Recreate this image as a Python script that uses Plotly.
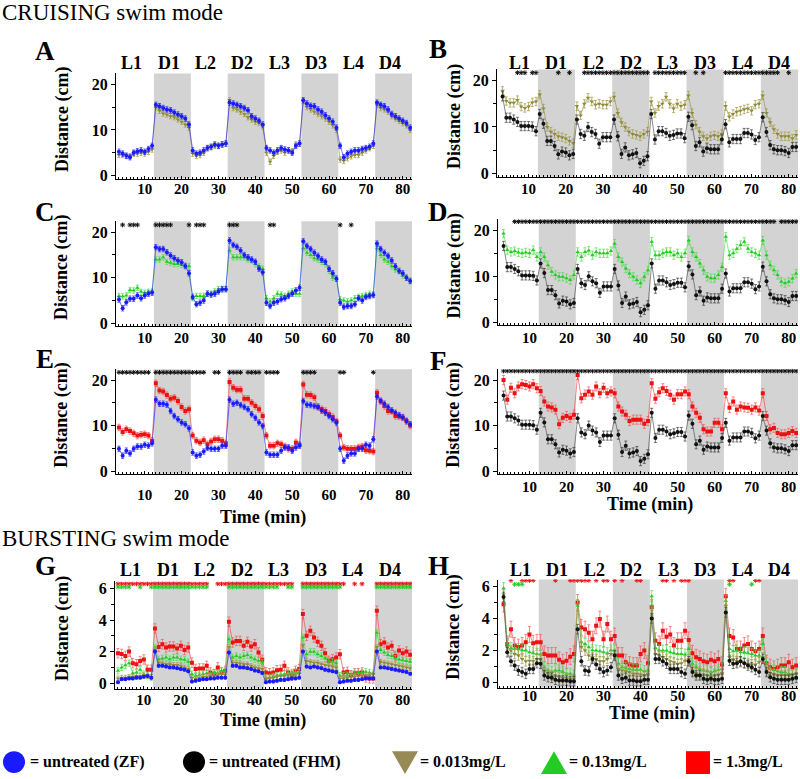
import plotly.graph_objects as go

# ---------------- data ----------------
minutes = list(range(3, 83))
dark_periods = [(12.5, 22.5), (32.5, 42.5), (52.5, 62.5), (72.5, 82.5)]
period_labels = ["L1", "D1", "L2", "D2", "L3", "D3", "L4", "D4"]
period_bounds = [2.5, 12.5, 22.5, 32.5, 42.5, 52.5, 62.5, 72.5, 82.5]
x_ticks = [10, 20, 30, 40, 50, 60, 70, 80]
cruise_yticks = [0, 10, 20]
burst_yticks = [0, 2, 4, 6]

# Panel A: ZF control vs 0.013 mg/L (cruising)
A_zf = [5.2,4.8,4.3,4.0,5.0,5.3,5.5,5.2,5.8,6.5, 15.5,15.2,14.8,14.5,14.3,13.8,13.4,13.0,12.5,11.2,
        5.5,4.8,5.0,5.5,6.0,6.3,6.8,6.5,6.8,7.0, 16.0,15.8,15.5,15.2,14.8,14.3,13.0,12.5,12.0,11.2,
        6.0,5.5,5.0,5.5,6.0,5.7,5.5,5.0,6.5,7.0, 16.5,15.8,15.3,15.2,14.5,14.0,13.2,12.5,11.8,10.5,
        6.5,4.0,4.8,5.2,5.5,5.5,5.8,6.0,6.3,7.0, 16.0,15.5,15.2,14.5,13.5,13.0,12.5,12.0,11.5,10.5]
A_low = [4.5,4.5,4.3,4.2,4.8,4.8,5.0,4.8,5.2,5.7, 15.0,14.2,13.6,13.4,13.0,12.8,12.3,11.8,11.2,10.5,
         4.8,4.3,4.5,5.0,6.0,6.2,6.5,6.5,6.8,7.0, 16.5,14.8,14.5,14.0,13.5,12.8,12.3,11.8,11.5,10.8,
         5.0,3.0,4.3,5.2,5.5,5.0,5.5,5.3,6.8,7.0, 16.3,15.0,14.5,14.0,13.5,13.0,12.5,11.8,11.0,10.0,
         3.5,3.2,3.8,4.2,4.5,4.5,5.0,5.5,6.0,6.5, 15.5,14.8,14.5,14.0,13.0,12.5,12.0,11.5,11.0,10.0]

# FHM control (cruising) used in B, D, F
FHM_cruise = [16.6,12,12,11.6,11.1,10.2,10.2,10.2,10.1,9.1, 12.8,10.7,7,7,5.9,4.1,4.7,4.5,3.9,4.2,
              11.6,8.5,8.1,10,8.9,8.5,6.4,7.8,7.8,7.8, 11.6,8,4.2,5.6,3.9,4.1,4.4,2.2,2.7,3.7,
              12.8,7.3,9.1,9.1,8.7,8.1,8.3,8.6,8.6,7.6, 12.2,10.4,5.9,6.7,4.7,5.4,5.2,5.2,5.2,7.3,
              10.6,6.7,7.4,7.4,7.4,8.7,8.7,8.4,7.2,7.8, 12.1,8.9,6.1,5.2,5,5,4.8,4.4,5.7,5.7]
B_low = [17.8,15.6,15.2,15.2,15.8,14.4,14.1,14.4,15.3,15.5, 17,14,10,9,8.5,8,7.8,7.5,7,6.5,
         14.5,12.5,15,16.3,15.5,14.8,15,14.8,14.8,15.5, 16.5,13,11,10,9,8.5,8.3,8,8.5,9,
         15.5,13,14.5,15,16.5,15,14,15,14.5,14.8, 16.8,13,10.5,9,8,7.5,8,8.2,8,8.5,
         14.5,12.2,12.8,13.3,13.5,13.8,14,13.5,14.8,15, 16.8,13,11,9.5,8.5,8,8,8,7.5,8.3]

# Panel C: ZF control vs 0.13 mg/L
C_zf = [5.2,3.3,4.6,5.4,5.4,6.1,5.5,6.1,6.5,6.7, 16.7,16.3,16.3,15.6,14.9,14.3,13.8,13.4,12.6,11.0,
        5.8,4.2,4.5,5,6.5,6.3,6.5,7,7.5,7.5, 18.2,17.2,16.8,16,15,14.5,14,13.5,12,11.2,
        4.5,3.8,4.5,4.8,5.3,5.5,6,6.5,7.2,7.8, 18,17,16.3,15.5,14.8,14,13.5,12,11,9.8,
        4.5,3.6,3.8,3.8,4.2,5.5,5,5.8,6,6.2, 17.5,16.3,15.5,14.8,13.8,12.5,11.5,11,10,9.3]
C_mid = [6.0,5.9,6.1,7.3,7.2,7.8,6.9,6.7,6.9,7.1, 14,14,14.5,13.5,13.3,13,13,12.8,12.5,12.5,
         5.5,6,6,6,6.5,6.5,7,7.5,7.5,7.5, 16,14.5,14.5,14.5,14.5,14,13.8,13,12.5,12,
         5.5,4.8,5.5,6.5,6.3,6,6.5,7,6.5,6.5, 16.5,15.5,15,14.3,14,13.5,13,11.5,10,9.8,
         5.3,5,4.8,5,5.5,5.8,6,6.2,6.5,6.3, 16.5,15,14,13.5,12.5,11.8,11.5,10.5,10,9.3]

# Panel D: FHM control vs 0.13 mg/L
D_mid = [19.3,15.7,15.3,15.5,15.2,15,15.2,15,15.7,14.2, 15.3,14.2,12.4,11,10.3,9.9,9.9,9.6,9.2,10.3,
         15.3,14.2,15.3,15.6,14.6,15.3,15,15,15,15.5, 17.1,14.2,13.1,11.7,10.6,9.9,9.2,8.5,9.9,11.3,
         17.5,14.6,14.6,15,15.3,15.3,14.6,15,14.2,15, 17.8,15.3,14.2,12.8,11.3,9.9,9.6,9.6,10.3,12,
         18.6,14.6,15,16,16.8,17.5,16,15.3,15,14.6, 17.8,14.6,12.4,11.3,10.3,8.8,8.5,8.8,9.5,10.6]

# Panel E: ZF control vs 1.3 mg/L
E_zf = [4.9,3.4,4.5,3.9,4.9,5.4,5.4,5.8,5.6,6.1, 15.7,14.8,14.8,14.6,13.2,12.1,11.4,10.7,10.3,9.4,
        4.1,3.4,3.6,4.3,5.1,4.9,4.9,4.9,5.6,5.6, 15.7,14.8,15,14.5,14.1,13.6,12.5,11.7,10.7,9.9,
        4.1,3.6,3.6,3.6,4.5,5.2,5.2,4.5,5.2,5.6, 15.4,14.6,14.5,14.3,14.1,13.3,12.8,12.1,11.4,10.7,
        4.9,2.3,3.4,3.9,3.9,4.9,4.9,5.8,5.6,7, 16.4,15.4,14.8,14.1,13.3,12.8,12.3,11.8,11,10.3]
E_high = [9.6,8.6,9.2,8.8,8.3,7.8,8,8.1,7.8,6.7, 19.3,17.7,17.5,16.7,15.9,16.1,15.4,14.1,13.2,13.6,
          7.8,6.7,6.3,6.8,5.9,6.5,7,7,6.7,6.1, 19.6,18.3,17.9,17.9,15.9,15.9,15,14.3,13.6,12.1,
          7.8,5.6,5.6,6.1,5.9,5.4,4.9,4.9,6.3,5.8, 19,16.8,16.7,16.2,14.1,13.6,13.2,12.5,11.9,10.9,
          7.8,5.2,4.9,4.9,4.9,5.2,5.4,4.6,4.5,4.3, 17.2,15.4,14.3,13.2,13.2,12.1,12,11.8,11,10]

# Panel F: FHM control vs 1.3 mg/L
F_high = [20,15.7,18.3,17.1,18.6,19.1,18.9,18.6,19.1,18.2, 17.6,15.3,14.2,14,13.5,10.3,11.7,12.1,11.7,12.4,
          21.1,16,16.8,17.5,16.8,18.6,17.1,18.3,17.1,17.5, 17.1,14.2,13.1,12.4,11,11.3,11.3,11.3,10.4,11,
          19.3,15.9,17.3,18.2,17.6,16.8,15.7,16.9,16.9,17.5, 16.9,14.2,12.8,11.7,9.2,8.7,8.7,10.6,10.6,9.2,
          17.1,13.9,15.3,13.5,14.2,14,13.9,13.5,14,13.3, 17.1,12.1,9.2,9.5,8.4,8.1,8.1,8.4,8.8,8.4]

# Panel G: bursting, ZF control and three concentrations
G_zf = [0.05,0.25,0.25,0.3,0.3,0.35,0.35,0.4,0.45,0.35, 2.0,1.1,1.1,1.05,1.0,1.0,0.95,0.9,0.85,0.75,
        0.1,0.15,0.2,0.25,0.25,0.3,0.3,0.35,0.35,0.35, 1.95,1.1,1.1,1.0,1.0,0.95,0.9,0.8,0.75,0.65,
        0.05,0.1,0.1,0.15,0.2,0.2,0.25,0.3,0.3,0.35, 2.0,1.05,1.0,1.05,1.0,0.95,0.85,0.8,0.75,0.7,
        0.05,0.1,0.15,0.15,0.2,0.2,0.25,0.3,0.3,0.3, 2.0,1.0,1.0,0.95,0.9,0.85,0.8,0.75,0.7,0.6]
G_low = [0.3,0.35,0.35,0.4,0.4,0.45,0.45,0.5,0.45,0.4, 2.1,1.3,1.25,1.2,1.2,1.15,1.15,1.1,1.0,0.9,
         0.35,0.3,0.35,0.4,0.4,0.45,0.45,0.5,0.55,0.55, 2.3,1.3,1.3,1.25,1.2,1.2,1.1,1.0,0.95,0.9,
         0.3,0.3,0.35,0.4,0.45,0.45,0.5,0.55,0.55,0.6, 2.4,1.4,1.35,1.3,1.3,1.2,1.15,1.1,1.05,1.0,
         0.3,0.3,0.35,0.4,0.4,0.45,0.45,0.5,0.5,0.55, 2.3,1.35,1.3,1.25,1.2,1.15,1.1,1.05,1.0,0.95]
G_mid = [0.78,1.0,1.14,1.27,0.63,0.68,0.85,0.57,0.47,0.36, 2.26,1.52,1.56,1.63,1.52,1.63,1.63,1.52,1.48,1.35,
         0.57,0.47,0.5,0.57,0.63,0.63,0.68,0.63,0.78,0.78, 2.79,1.63,1.73,1.63,1.73,1.78,1.63,1.52,1.42,1.31,
         0.25,0.36,0.42,0.47,0.5,0.57,0.63,0.68,0.68,0.68, 2.9,1.84,1.99,1.99,1.84,1.73,1.56,1.42,1.35,1.27,
         0.47,0.47,0.5,0.57,0.63,0.63,0.68,0.72,0.68,0.63, 3.2,2.1,1.95,1.78,1.73,1.56,1.5,1.45,1.4,1.35]
G_high = [1.9,1.85,1.73,2.0,1.27,1.2,1.4,1.5,0.85,0.85, 3.47,2.3,2.47,2.26,2.33,2.33,2.2,2.37,2.1,2.26,
          1.3,0.9,0.93,0.93,1.1,0.68,0.57,1.0,0.68,0.78, 3.9,2.58,2.68,2.68,2.37,2.62,2.33,2.47,1.95,1.48,
          0.68,0.63,0.68,0.82,0.85,1.1,0.68,0.47,0.78,0.89, 4.38,3.0,3.32,2.9,2.62,2.37,1.9,1.42,1.52,1.63,
          1.84,0.68,0.72,0.5,0.63,0.63,0.68,0.36,0.3,0.3, 4.6,2.47,2.58,2.26,2.37,1.73,2.07,1.9,2.0,1.8]

# Panel H: bursting, FHM control and three concentrations
H_fhm = [5.35,1.88,1.31,1.04,0.73,0.63,0.52,0.83,0.83,1.19, 1.15,0.42,0.31,0.27,0.15,0.1,0.1,0.1,0.06,0.06,
         3.33,1.31,0.73,0.69,1.46,1.1,0.83,0.63,0.73,0.94, 1.67,0.42,0.21,0.27,0.1,0.1,0.06,0.06,0.15,0.15,
         4.0,1.46,1.46,1.31,1.15,0.83,0.83,0.83,0.63,0.52, 1.31,0.63,0.42,0.42,0.21,0.15,0.21,0.15,0.15,0.21,
         4.38,1.35,1.15,1.19,1.31,1.19,1.04,0.94,0.77,0.63, 1.46,0.63,0.31,0.21,0.15,0.15,0.15,0.15,0.21,0.27]
H_low = [5.5,2.19,1.98,1.77,1.67,1.46,1.31,1.35,1.31,1.46, 1.46,0.73,0.52,0.42,0.35,0.31,0.27,0.27,0.21,0.21,
         4.9,2.23,1.98,1.67,1.56,1.46,1.31,1.31,1.46,1.77, 1.77,0.83,0.73,0.69,0.63,0.52,0.52,0.48,0.42,0.52,
         4.8,1.77,1.67,1.56,1.46,1.31,1.25,1.15,1.19,1.35, 1.46,0.73,0.56,0.48,0.42,0.42,0.35,0.42,0.48,0.56,
         4.8,1.56,1.4,1.31,1.25,1.19,1.15,1.1,1.1,1.25, 1.56,0.73,0.56,0.48,0.42,0.42,0.42,0.42,0.48,0.52]
H_mid = [5.9,2.4,2.15,2.08,2.08,2.0,1.98,1.88,1.81,1.77, 1.73,0.94,0.73,0.63,0.73,0.73,0.63,0.52,0.52,0.42,
         4.8,2.5,2.4,2.19,2.0,1.98,1.94,1.88,1.81,2.0, 1.98,1.15,0.94,0.9,0.83,0.77,0.77,0.77,0.69,0.73,
         5.4,2.15,2.0,1.98,1.98,1.88,1.81,1.77,1.77,1.73, 2.08,1.15,0.94,0.83,0.73,0.69,0.63,0.69,0.77,0.83,
         5.1,2.08,1.94,1.98,1.88,1.88,1.81,1.77,1.67,1.67, 2.4,1.19,0.83,0.77,0.69,0.63,0.63,0.52,0.42,0.52]
H_high = [4.9,2.4,3.33,2.3,2.2,2.3,2.5,3.0,2.44,2.5, 2.5,1.77,1.67,1.67,1.67,1.4,1.25,1.35,1.6,1.77,
          5.0,3.44,3.33,3.1,2.7,3.54,3.96,2.7,3.65,2.7, 2.9,1.67,1.67,1.25,1.1,1.04,1.04,1.77,1.98,1.19,
          4.7,2.6,2.4,3.23,2.85,3.0,2.3,2.6,2.6,3.23, 2.65,1.81,1.56,1.46,1.31,1.25,1.4,1.31,1.46,1.1,
          5.4,2.9,2.8,2.08,2.08,2.3,2.4,2.08,1.94,2.08, 2.9,1.19,0.94,0.83,0.94,1.04,1.04,1.25,0.94,1.04]

# significance markers (minutes with an asterisk)
B_stars = [7, 8, 9, 11, 12, 18, 21] + list(range(25, 43)) + list(range(44, 53)) + [55, 57] + list(range(63, 78)) + [80]
C_stars = [4, 6, 7, 8, 13, 14, 15, 16, 17, 22, 24, 25, 26, 33, 34, 35, 44, 45, 63, 66]
D_stars = list(range(6, 77)) + list(range(78, 83))
E_stars = list(range(3, 12)) + list(range(13, 27)) + [29, 30, 33, 34, 35, 36, 38, 39, 40, 41, 43, 44, 45, 46, 53, 54, 55, 56, 63, 64, 72]
F_stars = list(range(3, 83))
G_stars_high = list(range(3, 28)) + list(range(30, 51)) + list(range(53, 65)) + [67, 69] + list(range(73, 83))
G_stars_mid = [3, 4, 5, 6, 9, 12] + list(range(13, 28)) + list(range(33, 47)) + [49, 50] + list(range(53, 64)) + list(range(73, 83))
H_stars_high = [5, 8, 9, 10, 11, 17, 21, 22, 23, 24, 25, 26, 28, 30, 31, 33, 35, 39, 40, 46, 47, 49, 51, 52, 53, 64, 65, 71, 72]
H_stars_mid = [6, 7, 8, 64, 70]

legend_labels = ["= untreated (ZF)", "= untreated (FHM)", "= 0.013mg/L", "= 0.13mg/L", "= 1.3mg/L"]

# ---------------- styles ----------------
FONT = "Liberation Serif"
W, H = 800, 779
STY = {
    "ZF": dict(color="#1a1aff", symbol="circle", line="rgba(40,40,255,0.8)", err="rgba(40,40,255,0.7)"),
    "FHM": dict(color="#111111", symbol="circle", line="rgba(90,90,90,0.9)", err="rgba(60,60,60,0.7)"),
    "low": dict(color="#8f8a3a", symbol="triangle-down", line="rgba(150,145,70,0.8)", err="rgba(170,160,80,0.8)"),
    "mid": dict(color="#22cc22", symbol="triangle-up", line="rgba(80,220,80,0.8)", err="rgba(80,220,80,0.7)"),
    "high": dict(color="#ee1111", symbol="square", line="rgba(240,70,70,0.8)", err="rgba(240,90,90,0.7)"),
}


def px_x(p):
    return p / W


def px_y(p):
    return 1 - p / H


panels = [
    dict(letter="A", box=(116, 412, 73, 179), col="L", kind="c", lab=62, tls=-4,
         series=[("low", A_low, 0.6), ("ZF", A_zf, 0.6)], stars=[], time=None, let=(45, 50)),
    dict(letter="B", box=(497, 798, 69, 177), col="R", kind="c", lab=62, tls=-2,
         series=[("low", B_low, 0.9), ("FHM", FHM_cruise, 1.0)], stars=[(B_stars, 21.7, "#111")], time=None, let=(438, 48)),
    dict(letter="C", box=(116, 412, 222, 328), col="L", kind="c", lab=None, tls=-2,
         series=[("mid", C_mid, 0.6), ("ZF", C_zf, 0.6)], stars=[(C_stars, 21.6, "#111")], time=None, let=(45, 213)),
    dict(letter="D", box=(498, 798, 220, 327), col="R", kind="c", lab=None, tls=-1,
         series=[("mid", D_mid, 0.9), ("FHM", FHM_cruise, 1.0)], stars=[(D_stars, 21.9, "#111")], time=None, let=(438, 213)),
    dict(letter="E", box=(116, 412, 371, 477), col="L", kind="c", lab=None, tls=7,
         series=[("high", E_high, 0.7), ("ZF", E_zf, 0.6)], stars=[(E_stars, 21.7, "#111")], time=(263, 521), let=(45, 361)),
    dict(letter="F", box=(498, 798, 371, 477), col="R", kind="c", lab=None, tls=-1,
         series=[("high", F_high, 1.0), ("FHM", FHM_cruise, 1.0)], stars=[(F_stars, 22.0, "#111")], time=(650, 507), let=(438, 363)),
    dict(letter="G", box=(115, 412, 585, 693), col="L", kind="b", lab=573, tls=-3,
         series=[("high", G_high, 0.3), ("mid", G_mid, 0.2), ("low", G_low, 0.15), ("ZF", G_zf, 0.08)],
         stars=[(G_stars_high, 6.3, "#ee1111"), (G_stars_mid, 6.1, "#22cc22")], time=(263, 725), let=(45, 569)),
    dict(letter="H", box=(498, 798, 583, 692), col="R", kind="b", lab=573, tls=-6,
         series=[("high", H_high, 0.5), ("mid", H_mid, 0.35), ("low", H_low, 0.3), ("FHM", H_fhm, 0.3)],
         stars=[(H_stars_high, 6.4, "#ee1111"), (H_stars_mid, 6.15, "#22cc22")], time=(652, 718), let=(438, 569)),
]

fig = go.Figure()
layout = dict(width=W, height=H, margin=dict(l=0, r=0, t=0, b=0),
              paper_bgcolor="white", plot_bgcolor="white", showlegend=False,
              font=dict(family=FONT, color="black"))
shapes, annotations = [], []

for i, p in enumerate(panels, start=1):
    s = "" if i == 1 else str(i)
    xa, ya = "x" + s, "y" + s
    l, r, t, b = p["box"]
    xrange = [2.2, 82.5] if p["col"] == "L" else [1.5, 82.5]
    if p["kind"] == "c":
        yrange, ytv, ydt = [-0.7, 22.4], cruise_yticks, 5
    else:
        yrange, ytv, ydt = [-0.35, 6.45], burst_yticks, 1
    layout["xaxis" + s] = dict(domain=[px_x(l), px_x(r)], range=xrange, anchor=ya,
                               showline=True, linecolor="black", linewidth=1, showgrid=False, zeroline=False,
                               tickmode="array", tickvals=x_ticks, ticks="inside", ticklen=3, tickcolor="black",
                               ticklabelstandoff=p["tls"], ticklabeloverflow="allow",
                               minor=dict(dtick=1, tick0=0, ticks="inside", ticklen=2, tickcolor="black", showgrid=False),
                               tickfont=dict(family=FONT, size=15, weight="bold", color="black"))
    layout["yaxis" + s] = dict(domain=[px_y(b), px_y(t)], range=yrange, anchor=xa,
                               showline=True, linecolor="black", linewidth=1, showgrid=False, zeroline=False,
                               tickmode="array", tickvals=ytv, ticks="outside", ticklen=4, tickcolor="black",
                               minor=dict(dtick=ydt, tick0=0, ticks="outside", ticklen=3, tickcolor="black", showgrid=False),
                               tickfont=dict(family=FONT, size=16, weight="bold", color="black"))
    for a0, a1 in dark_periods:
        shapes.append(dict(type="rect", xref=xa, yref=ya + " domain", x0=a0, x1=min(a1, xrange[1]), y0=0, y1=1,
                           fillcolor="#d3d3d3", line=dict(width=0), layer="below"))
    for key, vals, err in p["series"]:
        st = STY[key]
        fig.add_trace(go.Scatter(x=minutes, y=vals, xaxis=xa, yaxis=ya, mode="lines+markers",
                                 line=dict(color=st["line"], width=0.8),
                                 marker=dict(color=st["color"], symbol=st["symbol"], size=4),
                                 error_y=dict(type="constant", value=err, color=st["err"], thickness=1, width=1.5),
                                 hoverinfo="skip"))
    for xs, yv, col in p["stars"]:
        fig.add_trace(go.Scatter(x=xs, y=[yv] * len(xs), xaxis=xa, yaxis=ya, mode="markers",
                                 marker=dict(symbol="asterisk-open", size=4, color=col, line=dict(color=col, width=1)),
                                 hoverinfo="skip"))
    # panel letter
    annotations.append(dict(text="<b>%s</b>" % p["letter"], xref="paper", yref="paper",
                            x=px_x(p["let"][0]), y=px_y(p["let"][1]), showarrow=False,
                            font=dict(family=FONT, size=27, color="black"), xanchor="center", yanchor="middle"))
    # y title
    ytx = 62 if p["col"] == "L" else 454
    annotations.append(dict(text="<b>Distance (cm)</b>", xref="paper", yref="paper",
                            x=px_x(ytx), y=px_y((t + b) / 2 - 6), showarrow=False, textangle=-90,
                            font=dict(family=FONT, size=18, color="black"), xanchor="center", yanchor="middle"))
    if p["time"]:
        annotations.append(dict(text="<b>Time (min)</b>", xref="paper", yref="paper",
                                x=px_x(p["time"][0]), y=px_y(p["time"][1]), showarrow=False,
                                font=dict(family=FONT, size=18, color="black"), xanchor="center", yanchor="middle"))
    if p["lab"]:
        off = -1.0 if p["col"] == "L" else 0.0
        for k, lab in enumerate(period_labels):
            cx = (period_bounds[k] + period_bounds[k + 1]) / 2 + off
            annotations.append(dict(text="<b>%s</b>" % lab, xref=xa, yref="paper", x=cx, y=px_y(p["lab"]),
                                    showarrow=False, font=dict(family=FONT, size=18, color="black"),
                                    xanchor="center", yanchor="middle"))

# section titles
annotations.append(dict(text="CRUISING swim mode", xref="paper", yref="paper", x=0, y=px_y(12),
                        showarrow=False, xanchor="left", yanchor="middle",
                        font=dict(family=FONT, size=23, color="black")))
annotations.append(dict(text="BURSTING swim mode", xref="paper", yref="paper", x=0, y=px_y(542),
                        showarrow=False, xanchor="left", yanchor="middle",
                        font=dict(family=FONT, size=23, color="black")))

# legend (drawn as shapes + text in paper coordinates)
cy = 767
leg_sym = [
    dict(type="circle", x0=px_x(3), x1=px_x(25), y0=px_y(cy + 11), y1=px_y(cy - 11), fillcolor="#1a1aff"),
    dict(type="circle", x0=px_x(183), x1=px_x(205), y0=px_y(cy + 11), y1=px_y(cy - 11), fillcolor="#000000"),
    dict(type="path", path="M %f %f L %f %f L %f %f Z" % (px_x(392), px_y(cy - 11), px_x(418), px_y(cy - 11), px_x(405), px_y(cy + 12)),
         fillcolor="#978a55"),
    dict(type="path", path="M %f %f L %f %f L %f %f Z" % (px_x(541), px_y(cy + 12), px_x(567), px_y(cy + 12), px_x(554), px_y(cy - 11)),
         fillcolor="#22cc22"),
    dict(type="rect", x0=px_x(686), x1=px_x(710), y0=px_y(cy + 12), y1=px_y(cy - 11), fillcolor="#ff0000"),
]
for sh in leg_sym:
    sh.update(xref="paper", yref="paper", line=dict(width=0))
    shapes.append(sh)
for txt, xl in zip(legend_labels, [28, 207, 418, 567, 711]):
    annotations.append(dict(text="<b>%s</b>" % txt, xref="paper", yref="paper", x=px_x(xl), y=px_y(cy),
                            showarrow=False, xanchor="left", yanchor="middle",
                            font=dict(family=FONT, size=16, color="black")))

layout["shapes"] = shapes
layout["annotations"] = annotations
fig.update_layout(**layout)
fig.write_html("out.html", config={"displayModeBar": False},
               post_script="document.body.style.margin='0px';document.body.style.overflow='hidden';")
